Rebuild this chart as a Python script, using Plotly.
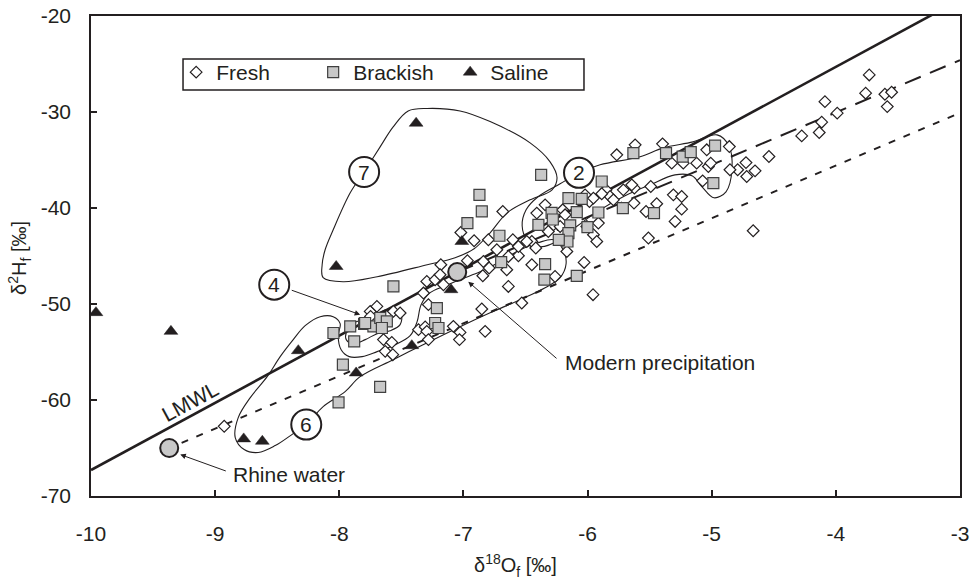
import plotly.graph_objects as go

INK = "#231f20"
FONT = "Liberation Sans, Arial, sans-serif"

# ---------------- data ----------------
fresh_x = [-8.927, -7.751, -7.697, -7.564, -7.510, -7.644, -7.577, -7.630, -7.569, -7.322,
           -7.282, -7.362, -7.308, -7.295, -7.282, -7.161, -7.081, -7.027, -7.032, -6.852,
           -6.825, -6.638, -6.683, -7.021, -6.914, -6.799, -6.602, -7.182, -6.968, -6.839,
           -6.731, -6.557, -6.449, -6.793, -6.844, -6.651, -7.295, -7.228, -6.530, -6.342,
           -6.409, -6.449, -6.417, -6.275, -6.262, -6.638, -5.765, -5.617, -5.396, -5.322,
           -5.712, -5.626, -5.491, -5.309, -5.443, -5.295, -5.510, -6.028, -5.956, -5.229,
           -5.121, -5.040, -5.027, -5.073, -5.851, -5.819, -5.623, -5.529, -5.242, -5.242,
           -5.985, -5.644, -3.731, -3.760, -3.605, -3.551, -3.586, -4.088, -3.989, -4.114,
           -4.134, -4.275, -4.539, -4.724, -4.651, -4.718, -4.791, -4.853, -4.858, -4.666,
           -6.200, -6.181, -6.221, -6.316, -5.953, -5.913, -5.926, -6.006, -5.792, -6.167,
           -6.557, -6.490, -5.886, -5.953, -6.020, -5.008, -7.748, -7.188]
fresh_y = [-62.74, -50.77, -50.25, -50.77, -50.94, -53.71, -54.00, -54.93, -55.28, -48.86,
           -50.07, -52.67, -52.39, -52.85, -53.71, -47.99, -52.33, -52.96, -53.71, -50.52,
           -52.85, -48.17, -40.36, -42.55, -43.41, -43.31, -43.31, -45.91, -45.49, -45.57,
           -44.35, -44.97, -45.91, -46.25, -47.06, -46.43, -47.65, -47.47, -49.90, -39.67,
           -40.53, -43.49, -44.17, -41.75, -47.13, -45.05, -34.46, -33.42, -33.32, -35.33,
           -38.11, -39.49, -37.76, -38.63, -39.56, -41.40, -43.13, -45.67, -49.03, -35.33,
           -35.33, -33.94, -35.68, -37.17, -38.11, -38.80, -37.93, -40.36, -38.80, -40.12,
           -39.32, -37.59, -26.14, -28.04, -28.15, -27.94, -29.44, -28.92, -30.12, -31.06,
           -32.14, -32.49, -34.64, -35.27, -36.13, -36.72, -36.02, -36.02, -33.60, -42.37,
           -40.19, -40.71, -41.93, -42.45, -42.79, -41.57, -43.49, -41.93, -39.15, -44.53,
           -44.01, -43.49, -38.52, -38.97, -38.63, -35.33, -51.29, -46.95]

brackish_x = [-6.871, -6.852, -6.968, -6.710, -6.696, -7.564, -8.047, -7.912, -7.800, -7.725,
              -7.670, -7.617, -7.657, -7.880, -7.971, -7.671, -8.006, -7.214, -7.228, -7.201,
              -6.342, -6.348, -6.396, -6.290, -6.280, -6.374, -6.087, -5.631, -5.368, -5.886,
              -6.154, -6.047, -6.087, -6.140, -6.154, -6.162, -6.001, -5.913, -5.716, -5.465,
              -6.232, -5.234, -5.169, -4.973, -4.987, -7.792]
brackish_y = [-38.63, -40.36, -41.57, -42.89, -45.63, -48.17, -53.02, -52.33, -52.08, -52.33,
              -51.46, -51.81, -52.50, -53.89, -56.32, -58.64, -60.24, -50.42, -51.98, -52.50,
              -45.84, -47.47, -41.75, -40.50, -41.20, -36.55, -47.06, -34.29, -34.29, -37.24,
              -38.97, -39.04, -40.43, -41.82, -42.61, -43.49, -41.99, -40.47, -40.01, -40.53,
              -43.31, -34.64, -34.18, -33.50, -37.41, -51.98]

saline_x = [-9.96, -9.356, -8.33, -8.77, -8.62, -7.864, -7.416, -7.10, -7.013, -8.025, -7.381]
saline_y = [-50.9, -52.85, -54.86, -64.05, -64.30, -57.18, -54.34, -48.51, -43.49, -46.09, -31.17]

# reference waters
rhine_x, rhine_y = -9.37, -65.0
modern_x, modern_y = -7.05, -46.67

# lines: slope, intercept, x-extent
lmwl_slope, lmwl_icpt, lmwl_x = 7.0, 2.7, [-10.0, -3.1]
dash_slope, dash_icpt, dash_x = 5.45, -8.25, [-7.05, -3.0]
dot_slope, dot_icpt, dot_x = 5.48, -13.66, [-9.27, -3.0]

# group outlines
region7_x = [-8.130, -8.138, -8.114, -8.049, -7.912, -7.800, -7.671, -7.566, -7.445, -7.292,
             -7.027, -6.785, -6.463, -6.302, -6.246, -6.286, -6.463, -6.648, -6.785, -6.914,
             -7.067, -7.292, -7.695, -7.969, -8.130]
region7_y = [-47.26, -45.91, -44.35, -42.27, -38.42, -36.23, -33.63, -31.55, -29.89, -29.63,
             -29.89, -31.00, -33.22, -35.19, -36.86, -38.11, -39.15, -40.50, -42.58, -44.25,
             -45.18, -45.91, -47.16, -47.68, -47.26]
region2_x = [-6.068, -5.899, -5.577, -5.392, -5.151, -4.957, -4.861, -4.837, -4.885, -4.982,
             -5.078, -5.159, -5.296, -5.497, -5.698, -5.924, -6.101, -6.221, -6.383, -6.487,
             -6.527, -6.495, -6.399, -6.221, -6.068]
region2_y = [-36.34, -35.50, -34.67, -33.74, -33.11, -32.38, -33.53, -36.02, -38.31, -38.94,
             -37.79, -36.65, -36.55, -37.59, -38.73, -40.40, -42.06, -43.31, -44.04, -43.31,
             -41.85, -40.19, -38.83, -37.48, -36.34]
region6_x = [-8.266, -8.130, -7.953, -7.832, -7.566, -7.292, -7.027, -6.785, -6.543, -6.342,
             -6.221, -6.173, -6.197, -6.270, -6.399, -6.543, -6.704, -6.866, -7.010, -7.147,
             -7.268, -7.341, -7.373, -7.429, -7.550, -7.695, -7.816, -7.920, -7.985, -8.009,
             -7.993, -8.049, -8.154, -8.275, -8.371, -8.476, -8.581, -8.717, -8.814, -8.838,
             -8.766, -8.653, -8.516, -8.371, -8.266]
region6_y = [-62.56, -60.69, -59.13, -57.57, -55.80, -54.03, -52.36, -50.91, -49.55, -48.30,
             -47.26, -45.81, -44.35, -43.31, -43.62, -44.35, -45.60, -46.64, -47.37, -48.10,
             -48.82, -50.07, -51.84, -53.30, -54.24, -54.96, -55.48, -55.48, -54.76, -53.30,
             -52.05, -51.32, -51.32, -52.26, -53.71, -55.48, -57.57, -59.75, -61.83, -63.91,
             -65.16, -65.47, -64.75, -63.50, -62.56]
region4_x = [-7.944, -7.896, -7.808, -7.687, -7.574, -7.502, -7.510, -7.590, -7.695, -7.791,
             -7.888, -7.944, -7.944]
region4_y = [-52.99, -52.05, -51.63, -50.91, -50.49, -51.01, -52.15, -52.78, -53.09, -53.71,
             -54.13, -53.71, -52.99]

# circled group labels
label_text = ["7", "2", "4", "6"]
label_x = [-7.80, -6.069, -8.524, -8.266]
label_y = [-36.25, -36.34, -47.99, -62.56]

x_ticks = [-10, -9, -8, -7, -6, -5, -4, -3]
x_ticktext = ["-10", "-9", "-8", "-7", "-6", "-5", "-4", "-3"]
y_ticks = [-70, -60, -50, -40, -30, -20]
y_ticktext = ["-70", "-60", "-50", "-40", "-30", "-20"]

# ---------------- figure ----------------
fig = go.Figure()

for rx, ry in [(region7_x, region7_y), (region2_x, region2_y),
               (region6_x, region6_y), (region4_x, region4_y)]:
    fig.add_trace(go.Scatter(x=rx, y=ry, mode="lines",
                             line=dict(color=INK, width=1.1, shape="spline", smoothing=1.0),
                             showlegend=False, hoverinfo="skip"))

def line_y(xs, m, b):
    return [m * v + b for v in xs]

fig.add_trace(go.Scatter(x=dot_x, y=line_y(dot_x, dot_slope, dot_icpt), mode="lines",
                         line=dict(color=INK, width=2, dash="7px,9px"),
                         showlegend=False, hoverinfo="skip"))
fig.add_trace(go.Scatter(x=dash_x, y=line_y(dash_x, dash_slope, dash_icpt), mode="lines",
                         line=dict(color=INK, width=2, dash="17px,10px"),
                         showlegend=False, hoverinfo="skip"))
fig.add_trace(go.Scatter(x=lmwl_x, y=line_y(lmwl_x, lmwl_slope, lmwl_icpt), mode="lines",
                         line=dict(color=INK, width=2.6),
                         showlegend=False, hoverinfo="skip"))

fig.add_trace(go.Scatter(x=fresh_x, y=fresh_y, mode="markers", name="Fresh",
                         marker=dict(symbol="diamond", size=9, color="white",
                                     line=dict(color=INK, width=1.2))))
fig.add_trace(go.Scatter(x=brackish_x, y=brackish_y, mode="markers", name="Brackish",
                         marker=dict(symbol="square", size=11, color="#c8c8c8",
                                     line=dict(color="#404040", width=1.2))))
fig.add_trace(go.Scatter(x=saline_x, y=saline_y, mode="markers", name="Saline",
                         marker=dict(symbol="triangle-up", size=12, color=INK,
                                     line=dict(color=INK, width=0.5))))

fig.add_trace(go.Scatter(x=[rhine_x, modern_x], y=[rhine_y, modern_y], mode="markers",
                         marker=dict(symbol="circle", size=18, color="#c8c8c8",
                                     line=dict(color=INK, width=2)),
                         showlegend=False, hoverinfo="skip", cliponaxis=False))

# legend frame (drawn as a rectangle so its height matches the original)
shapes = [dict(type="rect", xref="paper", yref="paper", x0=0.1059, x1=0.5673, y0=0.8458, y1=0.9104,
               line=dict(color=INK, width=1.5), fillcolor="white", layer="above")]
annotations = []
for t, lx, ly in zip(label_text, label_x, label_y):
    shapes.append(dict(type="circle", xref="x", yref="y", xsizemode="pixel", ysizemode="pixel",
                       xanchor=lx, yanchor=ly, x0=-15, x1=15, y0=-15, y1=15,
                       line=dict(color=INK, width=2), fillcolor="white", layer="above"))
    annotations.append(dict(x=lx, y=ly, xref="x", yref="y", text=t, showarrow=False,
                            font=dict(size=21, color=INK, family=FONT)))

def arrow(hx, hy, tx, ty):
    return dict(x=hx, y=hy, ax=tx, ay=ty, xref="x", yref="y", axref="x", ayref="y",
                text="", showarrow=True, arrowhead=2, arrowsize=1.1, arrowwidth=1,
                arrowcolor=INK, standoff=0, startstandoff=0)

annotations.append(arrow(-7.832, -51.11, -8.395, -48.51))
annotations.append(arrow(-6.961, -47.68, -6.238, -55.8))
annotations.append(arrow(-9.281, -65.68, -8.902, -67.45))

annotations.append(dict(x=-6.20, y=-56.1, xref="x", yref="y", text="Modern precipitation",
                        showarrow=False, xanchor="left", yanchor="middle",
                        font=dict(size=21, color=INK, family=FONT)))
annotations.append(dict(x=-8.87, y=-67.76, xref="x", yref="y", text="Rhine water",
                        showarrow=False, xanchor="left", yanchor="middle",
                        font=dict(size=21, color=INK, family=FONT)))
annotations.append(dict(x=-9.2, y=-60.2, xref="x", yref="y", text="LMWL",
                        showarrow=False, textangle=-28.4,
                        font=dict(size=21, color=INK, family=FONT)))

annotations.append(dict(x=0.488, y=-0.144, xref="paper", yref="paper",
                        text="δ<sup>18</sup>O<sub>f</sub> [‰]", showarrow=False,
                        xanchor="center", yanchor="middle",
                        font=dict(size=20, color=INK, family=FONT)))
annotations.append(dict(x=-0.0817, y=0.496, xref="paper", yref="paper",
                        text="δ<sup>2</sup>H<sub>f</sub> [‰]", showarrow=False, textangle=-90,
                        xanchor="center", yanchor="middle",
                        font=dict(size=20, color=INK, family=FONT)))

axis_common = dict(showgrid=False, zeroline=False, showline=True, mirror=True,
                   automargin=False,
                   linecolor=INK, linewidth=1.5, ticks="inside", ticklen=6, tickwidth=1.5,
                   tickcolor=INK, tickfont=dict(size=21, color=INK, family=FONT))

fig.update_layout(
    width=974, height=581,
    margin=dict(l=91, r=14, t=16, b=85, autoexpand=False),
    paper_bgcolor="white", plot_bgcolor="white",
    font=dict(family=FONT, color=INK),
    xaxis=dict(range=[-10, -3], tickvals=x_ticks, ticktext=x_ticktext,
               ticklabelstandoff=18, **axis_common),
    yaxis=dict(range=[-70, -20], tickvals=y_ticks, ticktext=y_ticktext,
               ticklabelstandoff=14, **axis_common),
    legend=dict(orientation="h", x=0.098, y=0.925, xanchor="left", yanchor="top",
                borderwidth=0, bgcolor="rgba(0,0,0,0)",
                font=dict(size=21, color=INK, family=FONT),
                entrywidth=92, entrywidthmode="pixels", itemclick=False),
    shapes=shapes, annotations=annotations,
    showlegend=True,
)

# remove the browser's default 8px page margin so the figure sits at the window origin
fig.write_html("out.html", config={"displayModeBar": False},
               post_script="document.body.style.margin='0px';")
